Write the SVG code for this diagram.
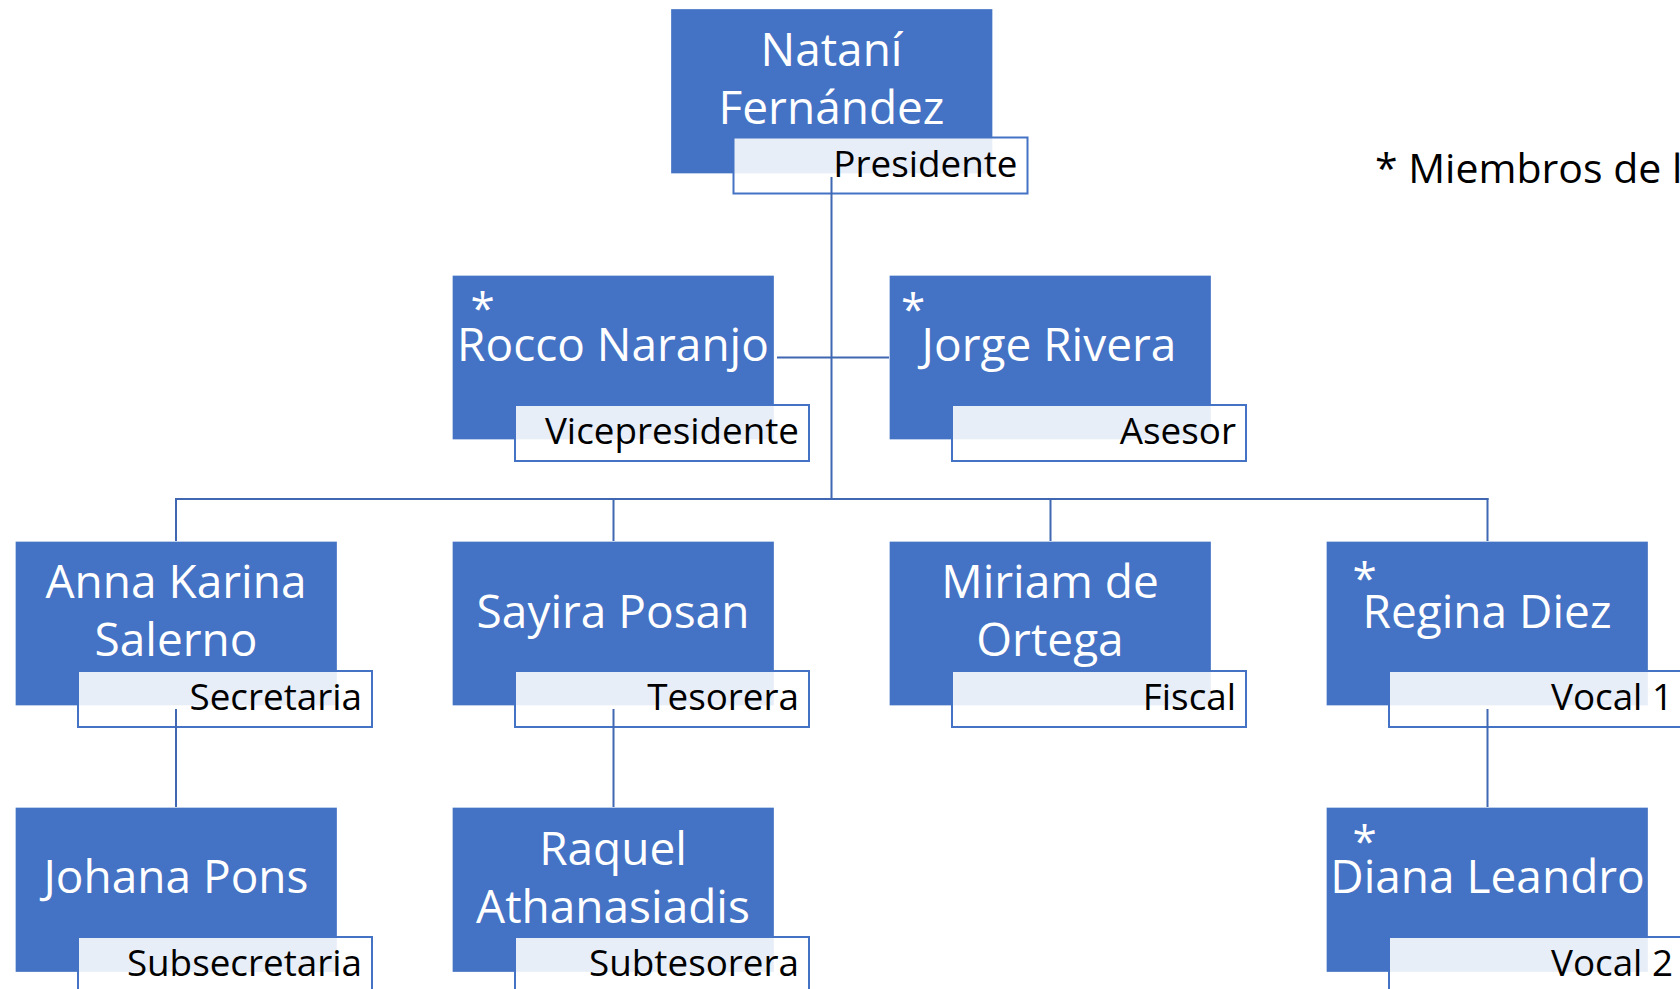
<svg xmlns="http://www.w3.org/2000/svg" width="1680" height="989" viewBox="0 0 1680 989">
  <style>
    .box { fill: #4472C4; stroke: #ffffff; stroke-width: 1.3; }
    .lab { fill: #ffffff; fill-opacity: 0.88; stroke: #4472C4; stroke-width: 2; }
    .name { font-family: "Open Sans", "Noto Sans", sans-serif; font-size: 46px; fill: #ffffff; text-anchor: middle; }
    .ast { font-family: "Open Sans", "Noto Sans", sans-serif; font-size: 44px; fill: #ffffff; text-anchor: middle; }
    .role { font-family: "Open Sans", "Noto Sans", sans-serif; font-size: 36.8px; fill: #000000; text-anchor: end; }
    .legend { font-family: "Open Sans", "Noto Sans", sans-serif; font-size: 41px; fill: #000000; }
    .conn { stroke: #3F67B2; stroke-width: 2; fill: none; }
  </style>
  <rect width="1680" height="989" fill="#ffffff"/>

  <g id="node-natani">
    <rect class="box" x="670.5" y="8.5" width="322.5" height="165.5"/>
    <rect class="lab" x="733.5" y="137.5" width="294" height="56"/>
    <text class="name" x="831.5" y="66">Nataní</text>
    <text class="name" x="831.5" y="124">Fernández</text>
    <text class="role" x="1017.5" y="177">Presidente</text>
  </g>

  <g id="node-rocco">
    <rect class="box" x="452" y="275" width="322.5" height="165"/>
    <rect class="lab" x="515" y="405" width="294" height="56"/>
    <text class="ast" x="482.5" y="324">*</text>
    <text class="name" x="613" y="361">Rocco Naranjo</text>
    <text class="role" x="799" y="444">Vicepresidente</text>
  </g>

  <g id="node-jorge">
    <rect class="box" x="889" y="275" width="322.5" height="165"/>
    <rect class="lab" x="952" y="405" width="294" height="56"/>
    <text class="ast" x="913" y="325">*</text>
    <text class="name" x="1049" y="361">Jorge Rivera</text>
    <text class="role" x="1236" y="444">Asesor</text>
  </g>

  <g id="node-anna">
    <rect class="box" x="15" y="541" width="322.5" height="165"/>
    <rect class="lab" x="78" y="671" width="294" height="56"/>
    <text class="name" x="176" y="598">Anna Karina</text>
    <text class="name" x="176" y="656">Salerno</text>
    <text class="role" x="362" y="710">Secretaria</text>
  </g>

  <g id="node-sayira">
    <rect class="box" x="452" y="541" width="322.5" height="165"/>
    <rect class="lab" x="515" y="671" width="294" height="56"/>
    <text class="name" x="613" y="628">Sayira Posan</text>
    <text class="role" x="799" y="710">Tesorera</text>
  </g>

  <g id="node-miriam">
    <rect class="box" x="889" y="541" width="322.5" height="165"/>
    <rect class="lab" x="952" y="671" width="294" height="56"/>
    <text class="name" x="1050" y="598">Miriam de</text>
    <text class="name" x="1050" y="656">Ortega</text>
    <text class="role" x="1236" y="710">Fiscal</text>
  </g>

  <g id="node-regina">
    <rect class="box" x="1326" y="541" width="322.5" height="165"/>
    <rect class="lab" x="1389" y="671" width="294" height="56"/>
    <text class="ast" x="1364.5" y="594">*</text>
    <text class="name" x="1487" y="628">Regina Diez</text>
    <text class="role" x="1673" y="710">Vocal 1</text>
  </g>

  <g id="node-johana">
    <rect class="box" x="15" y="807" width="322.5" height="165.5"/>
    <rect class="lab" x="78" y="937" width="294" height="56"/>
    <text class="name" x="176" y="893">Johana Pons</text>
    <text class="role" x="362" y="976">Subsecretaria</text>
  </g>

  <g id="node-raquel">
    <rect class="box" x="452" y="807" width="322.5" height="165.5"/>
    <rect class="lab" x="515" y="937" width="294" height="56"/>
    <text class="name" x="613" y="865">Raquel</text>
    <text class="name" x="613" y="923">Athanasiadis</text>
    <text class="role" x="799" y="976">Subtesorera</text>
  </g>

  <g id="node-diana">
    <rect class="box" x="1326" y="807" width="322.5" height="165.5"/>
    <rect class="lab" x="1389" y="937" width="294" height="56"/>
    <text class="ast" x="1364.5" y="857">*</text>
    <text class="name" x="1487.5" y="893">Diana Leandro</text>
    <text class="role" x="1673" y="976">Vocal 2</text>
  </g>

  <g id="connectors">
    <line class="conn" x1="831.5" y1="177" x2="831.5" y2="499"/>
    <line class="conn" x1="777" y1="357.5" x2="889" y2="357.5"/>
    <line class="conn" x1="175" y1="499" x2="1488.5" y2="499"/>
    <line class="conn" x1="176" y1="498" x2="176" y2="541"/>
    <line class="conn" x1="613.5" y1="499" x2="613.5" y2="541"/>
    <line class="conn" x1="1050.5" y1="499" x2="1050.5" y2="541"/>
    <line class="conn" x1="1487.5" y1="498" x2="1487.5" y2="541"/>
    <line class="conn" x1="176" y1="709" x2="176" y2="807"/>
    <line class="conn" x1="613.5" y1="709" x2="613.5" y2="807"/>
    <line class="conn" x1="1487.5" y1="709" x2="1487.5" y2="807"/>
  </g>

  <g id="legend">
    <text class="legend" x="1375" y="183">* Miembros de la</text>
  </g>
</svg>
